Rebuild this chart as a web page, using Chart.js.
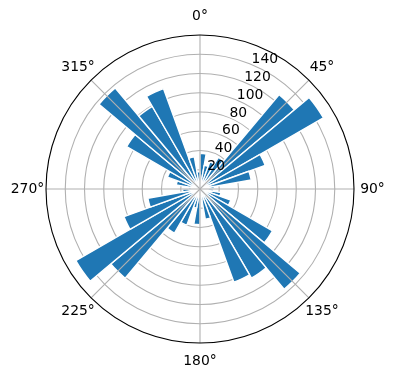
<!DOCTYPE html>
<html><head><meta charset="utf-8">
<script src="https://cdn.jsdelivr.net/npm/chart.js@4/dist/chart.umd.min.js"></script>
<style>html,body{margin:0;padding:0;background:#fff}</style>
</head><body>
<canvas id="c" width="396" height="380" style="display:block;width:396px;height:380px"></canvas>
<script>
// Bin start angles (degrees, clockwise from north), 10 degree bins
const binStarts = [0,10,20,30,40,50,60,70,80,90,100,110,120,130,140,150,160,170,
                   180,190,200,210,220,230,240,250,260,270,280,290,300,310,320,330,340,350];
// Counts per bin
const counts = [37,25,30,38,128,148,72,54,15,14,22,34,87,136,107,103,32,12,
                37,20,40,53,121,149,84,55,18,12,25,36,88,137,99,111,34,18];
const rTicks = [20,40,60,80,100,120,140];
const rMax = 160;
const thetaTicks = [0,45,90,135,180,225,270,315];
const thetaLabels = ['0°','45°','90°','135°','180°','225°','270°','315°'];

const FONT = '"DejaVu Sans", sans-serif';

const overlay = {
  id: 'overlay',
  afterDraw(chart) {
    const s = chart.scales.r, ctx = chart.ctx;
    const cx = s.xCenter, cy = s.yCenter;
    const R = s.getDistanceFromCenterForValue(rMax);
    ctx.save();
    ctx.strokeStyle = '#b0b0b0';
    ctx.lineWidth = 1.1;
    thetaTicks.forEach(t => {
      const a = (t - 90) * Math.PI / 180;
      ctx.beginPath();
      ctx.moveTo(cx, cy);
      ctx.lineTo(cx + R * Math.cos(a), cy + R * Math.sin(a));
      ctx.stroke();
    });
    ctx.strokeStyle = '#000';
    ctx.beginPath();
    ctx.arc(cx, cy, R, 0, 2 * Math.PI);
    ctx.stroke();
    ctx.fillStyle = '#000';
    ctx.font = '13.9px ' + FONT;
    ctx.textAlign = 'left';
    ctx.textBaseline = 'bottom';
    const la = (22.5 - 90) * Math.PI / 180;
    rTicks.forEach(v => {
      const r = s.getDistanceFromCenterForValue(v);
      ctx.fillText(String(v), cx + r * Math.cos(la), cy + r * Math.sin(la) + 2);
    });
    ctx.textAlign = 'center';
    ctx.textBaseline = 'middle';
    thetaTicks.forEach((t, i) => {
      const a = (t - 90) * Math.PI / 180;
      const rr = R + 18.5;
      ctx.fillText(thetaLabels[i], cx + rr * Math.cos(a), cy + rr * Math.sin(a));
    });
    ctx.restore();
  }
};

new Chart(document.getElementById('c'), {
  type: 'polarArea',
  data: {
    labels: binStarts.map(d => d + '°'),
    datasets: [{
      data: counts,
      backgroundColor: '#1f77b4',
      borderColor: '#ffffff',
      borderWidth: 1.4
    }]
  },
  options: {
    responsive: false,
    animation: false,
    startAngle: 0,
    layout: { padding: { left: 46, right: 42, top: 35, bottom: 37 } },
    plugins: { legend: { display: false }, tooltip: { enabled: false } },
    scales: {
      r: {
        min: 0,
        max: rMax,
        z: 1,
        ticks: { stepSize: 20, display: false },
        grid: {
          circular: true,
          color: ctx => (ctx.tick && ctx.tick.value === rMax) ? 'rgba(0,0,0,0)' : '#b0b0b0',
          lineWidth: 1.1
        },
        angleLines: { display: false },
        pointLabels: { display: false }
      }
    }
  },
  plugins: [overlay]
});
</script>
</body></html>
